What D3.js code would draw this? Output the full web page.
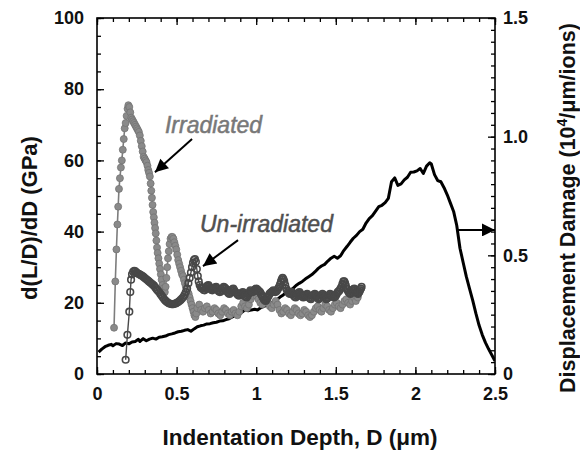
<!DOCTYPE html>
<html><head><meta charset="utf-8">
<script src="https://cdn.jsdelivr.net/npm/d3@7"></script>
<style>
html,body{margin:0;padding:0;background:#fff;}
svg{display:block;font-family:"Liberation Sans",Arial,Helvetica,sans-serif;}
</style></head>
<body><svg id="c" width="580" height="450"></svg>
<script>
// ---------- data ----------
const xTicks = [0, 0.5, 1, 1.5, 2, 2.5];
const xTickLabels = ["0", "0.5", "1", "1.5", "2", "2.5"];
const yLeftTicks = [0, 20, 40, 60, 80, 100];
const yRightTicks = [0, 0.5, 1.0, 1.5];
const yRightTickLabels = ["0", "0.5", "1.0", "1.5"];

const irrD = [0.107,0.115,0.122,0.128,0.133,0.138,0.144,0.150,0.156,0.162,0.168,0.174,0.180,0.186,0.192,0.197,0.203,0.209,0.215,0.221,0.227,0.233,0.239,0.245,0.251,0.257,0.263,0.269,0.275,0.281,0.287,0.293,0.299,0.305,0.311,0.317,0.322,0.327,0.332,0.337,0.341,0.345,0.349,0.353,0.357,0.361,0.365,0.369,0.373,0.377,0.381,0.386,0.391,0.396,0.401,0.406,0.411,0.416,0.421,0.426,0.431,0.436,0.441,0.446,0.451,0.456,0.462,0.468,0.474,0.480,0.486,0.492,0.498,0.504,0.510,0.516,0.522,0.528,0.534,0.540,0.546,0.552,0.558,0.564,0.570,0.576,0.582,0.588,0.594,0.600,0.606,0.612,0.618,0.624,0.630,0.642,0.654,0.666,0.678,0.690,0.702,0.714,0.726,0.738,0.750,0.762,0.774,0.786,0.798,0.810,0.822,0.834,0.846,0.858,0.870,0.882,0.894,0.906,0.918,0.930,0.942,0.954,0.966,0.978,0.990,1.002,1.014,1.026,1.038,1.050,1.062,1.074,1.086,1.098,1.110,1.122,1.134,1.146,1.158,1.170,1.182,1.194,1.206,1.218,1.230,1.242,1.254,1.266,1.278,1.290,1.302,1.314,1.326,1.338,1.350,1.362,1.374,1.386,1.398,1.410,1.422,1.434,1.446,1.458,1.470,1.482,1.494,1.506,1.518,1.530,1.542,1.554,1.566,1.578,1.590,1.602,1.614,1.626,1.638,1.650,1.660];
const irrV = [13,26,35,42,47,52,55,58,60,63,66,69,70.5,72.5,74.5,75.5,75,73.5,72,71.5,71,70.5,70,69.5,69,68.5,68,67,65.5,64,62.5,61,60.5,60,59.5,58.5,57.3,56.5,55.5,53.5,51.5,49.5,47.5,45.5,44,42.5,41,39.5,37.5,35.5,34,32.5,31,29.5,28,26.5,25,24,23,23,24.5,27,30,32.5,34.5,36.5,38,38.5,38.5,38,37,36,35,33.5,32,31,30,29,28,27.5,26.5,25.5,24.5,24,23,22.5,21.5,20.5,19.5,18.5,17.5,16.5,16,17,18.5,19.5,18,17.5,18.5,19,18,17,17.5,18.5,18,17,16.5,17.5,18.5,18,17,16.5,17.5,18,17,16.5,17.5,19,20,19,18.5,19.5,21,22,23,22,21,20,19.5,20.5,21,20,19,18.5,19.5,20.5,19.5,18,17,17.5,18.5,18,17,16.5,17.5,18.5,18,17,16.5,17,18,17.5,16.5,16,16.5,17.5,18.5,19,18,17.5,18.5,19.5,19,18,17.5,18.5,19.5,20,19,18.5,19.5,20.5,21,20,19.5,20.5,21.5,20.5,21.5,23,24];

const unD = [0.180,0.191,0.203,0.209,0.214,0.220,0.227,0.234,0.241,0.248,0.255,0.262,0.270,0.278,0.286,0.294,0.302,0.310,0.318,0.326,0.334,0.342,0.350,0.358,0.366,0.374,0.382,0.390,0.398,0.406,0.414,0.422,0.430,0.438,0.446,0.454,0.462,0.470,0.478,0.486,0.494,0.502,0.510,0.518,0.526,0.534,0.542,0.550,0.558,0.566,0.574,0.582,0.590,0.597,0.603,0.609,0.615,0.621,0.627,0.633,0.639,0.645,0.652,0.658,0.664,0.670,0.676,0.682,0.688,0.694,0.700,0.706,0.712,0.718,0.724,0.730,0.736,0.742,0.748,0.754,0.760,0.766,0.772,0.778,0.784,0.790,0.796,0.802,0.808,0.814,0.820,0.826,0.832,0.838,0.844,0.850,0.856,0.862,0.868,0.874,0.880,0.886,0.892,0.898,0.904,0.910,0.916,0.922,0.928,0.934,0.940,0.946,0.952,0.958,0.964,0.970,0.976,0.982,0.988,0.994,1.000,1.006,1.012,1.018,1.024,1.030,1.036,1.042,1.048,1.054,1.060,1.066,1.072,1.078,1.084,1.090,1.096,1.102,1.108,1.114,1.120,1.126,1.132,1.138,1.144,1.150,1.156,1.161,1.166,1.171,1.176,1.182,1.188,1.194,1.200,1.206,1.212,1.218,1.224,1.230,1.236,1.242,1.248,1.254,1.260,1.266,1.272,1.278,1.284,1.290,1.296,1.302,1.308,1.314,1.320,1.326,1.332,1.338,1.344,1.350,1.356,1.362,1.368,1.374,1.380,1.386,1.392,1.398,1.404,1.410,1.416,1.422,1.428,1.434,1.440,1.446,1.452,1.458,1.464,1.470,1.476,1.482,1.488,1.494,1.500,1.506,1.512,1.518,1.524,1.530,1.536,1.542,1.548,1.553,1.558,1.563,1.568,1.574,1.580,1.586,1.592,1.598,1.604,1.610,1.616,1.622,1.628,1.634,1.640,1.646,1.652,1.657,1.662];
const unV = [4,11,17.5,23,26.5,28,28.7,29,28.8,28.5,28.3,28.1,27.9,27.7,27.5,27.2,26.9,26.6,26.3,26,25.7,25.4,25.1,24.8,24.3,23.8,23.4,23,22.5,22,21.5,21,20.6,20.3,20,19.8,19.7,19.6,19.6,19.7,19.8,20,20.2,20.5,20.8,21.2,21.6,22.2,23,24,25.5,27,28.5,30,31.2,32,32.3,31.5,29.5,27.5,26,25,24.3,24.1,24,23.6,23.5,24,24.5,24.8,25,24.5,24,23.7,23.5,23.8,24,24.3,24.5,24,23.5,23.2,23,23.2,23.5,24,24.5,24.3,24,23.5,23,22.7,22.5,23,23.5,23.8,24,23.5,23,22.8,22.5,22.2,22,22.2,22.5,22.8,23,22.5,22,21.7,21.5,22,22.5,23,23.5,23.2,23,23.2,23.5,23.8,24,23.8,23.5,23.2,23,22.5,22,21.5,21,20.7,20.5,21,21.5,22,22.5,22.8,23,23.2,23.5,23.2,23,23.2,23.5,24,24.5,25.2,26,26.6,27,26.6,26,25,24,23.5,23,22.7,22.5,22.8,23,22.5,22,21.7,21.5,22,22.5,22.8,23,22.5,22,21.7,21.5,21.7,22,22.2,22.5,22,21.5,21.2,21,21.5,22,22.2,22.5,22.2,22,21.5,21,21.2,21.5,22,22.5,22.2,22,21.5,21,21.2,21.5,22,22.5,22.2,22,21.7,21.5,21.7,22,22.5,23,23.2,23.5,24,24.5,25.3,26,26,25.5,24.8,24,23.5,23,22.7,22.5,23,23.5,23.8,24,23.5,23,22.7,22.5,23,23.5,24,24.5];

const dmgD = [0.01,0.03,0.05,0.07,0.09,0.10,0.12,0.14,0.16,0.18,0.20,0.22,0.24,0.26,0.27,0.29,0.31,0.33,0.35,0.37,0.39,0.41,0.43,0.45,0.47,0.49,0.51,0.53,0.55,0.57,0.59,0.61,0.63,0.65,0.67,0.69,0.71,0.73,0.75,0.77,0.79,0.81,0.83,0.85,0.87,0.89,0.91,0.93,0.95,0.97,0.99,1.01,1.03,1.05,1.07,1.09,1.11,1.13,1.15,1.17,1.19,1.21,1.23,1.25,1.27,1.29,1.31,1.33,1.35,1.37,1.39,1.41,1.43,1.45,1.47,1.49,1.51,1.53,1.55,1.57,1.59,1.61,1.63,1.65,1.67,1.69,1.71,1.73,1.75,1.77,1.79,1.81,1.83,1.85,1.87,1.89,1.91,1.93,1.95,1.97,1.99,2.01,2.03,2.05,2.07,2.09,2.10,2.12,2.14,2.16,2.18,2.20,2.22,2.24,2.26,2.28,2.30,2.32,2.34,2.36,2.38,2.40,2.42,2.44,2.46,2.48,2.50];
const dmgV = [0.092,0.105,0.115,0.121,0.125,0.119,0.128,0.126,0.120,0.131,0.127,0.135,0.137,0.146,0.137,0.149,0.140,0.147,0.151,0.147,0.155,0.157,0.160,0.166,0.169,0.173,0.178,0.180,0.184,0.187,0.180,0.190,0.199,0.203,0.206,0.211,0.212,0.216,0.218,0.223,0.224,0.229,0.233,0.240,0.248,0.255,0.260,0.270,0.266,0.270,0.273,0.270,0.280,0.285,0.291,0.300,0.305,0.313,0.324,0.333,0.345,0.354,0.360,0.373,0.382,0.390,0.401,0.410,0.419,0.431,0.445,0.455,0.462,0.476,0.488,0.496,0.488,0.498,0.520,0.537,0.555,0.572,0.584,0.600,0.610,0.636,0.655,0.667,0.686,0.705,0.711,0.722,0.740,0.810,0.826,0.795,0.801,0.818,0.829,0.850,0.851,0.856,0.866,0.845,0.876,0.890,0.885,0.840,0.815,0.810,0.785,0.755,0.720,0.685,0.625,0.530,0.470,0.410,0.360,0.310,0.255,0.205,0.165,0.132,0.105,0.080,0.055];

// ---------- layout ----------
const W = 580, H = 450;
const m = {left: 97, right: 85, top: 18, bottom: 76};
const svg = d3.select("#c");
const x = d3.scaleLinear().domain([0, 2.5]).range([m.left, W - m.right]);
const yL = d3.scaleLinear().domain([0, 100]).range([H - m.bottom, m.top]);
const yR = d3.scaleLinear().domain([0, 1.5]).range([H - m.bottom, m.top]);
const FONT = '"Liberation Sans",Arial,Helvetica,sans-serif';

// ---------- data marks ----------
const clipId = "plotclip";
svg.append("clipPath").attr("id", clipId).append("rect")
  .attr("x", m.left).attr("y", m.top).attr("width", W - m.left - m.right).attr("height", H - m.top - m.bottom);

const dmg = dmgD.map((d, i) => [d, dmgV[i]]);
svg.append("path").datum(dmg).attr("clip-path", `url(#${clipId})`)
  .attr("fill", "none").attr("stroke", "#000").attr("stroke-width", 3).attr("stroke-linejoin", "round")
  .attr("d", d3.line().x(d => x(d[0])).y(d => yR(d[1])));

const irr = irrD.map((d, i) => [d, irrV[i]]);
const gIrr = svg.append("g");
gIrr.append("path").datum(irr).attr("fill", "none").attr("stroke", "#7d7d7d").attr("stroke-width", 1.6)
  .attr("d", d3.line().x(d => x(d[0])).y(d => yL(d[1])));
gIrr.selectAll("circle").data(irr).join("circle")
  .attr("cx", d => x(d[0])).attr("cy", d => yL(d[1])).attr("r", 3.5)
  .attr("fill", "#8a8a8a").attr("stroke", "#737373").attr("stroke-width", 0.8);

const un = unD.map((d, i) => [d, unV[i]]);
const gUn = svg.append("g");
gUn.append("path").datum(un).attr("fill", "none").attr("stroke", "#4a4a4a").attr("stroke-width", 1.4)
  .attr("d", d3.line().x(d => x(d[0])).y(d => yL(d[1])));
gUn.selectAll("circle").data(un).join("circle")
  .attr("cx", d => x(d[0])).attr("cy", d => yL(d[1])).attr("r", 3.3)
  .attr("fill", "none").attr("stroke", "#484848").attr("stroke-width", 1.6);

// ---------- axes ----------
const minorX = d3.range(0, 2.5001, 0.1).map(v => +v.toFixed(2));
const minorL = d3.range(0, 100.001, 5);
const minorR = d3.range(0, 1.5001, 0.05).map(v => +v.toFixed(2));
const fmtX = d => xTickLabels[xTicks.indexOf(d)];
const fmtR = d => yRightTickLabels[yRightTicks.indexOf(d)];

function styleAxis(g) {
  g.select(".domain").remove();
  g.selectAll("line").attr("stroke", "#000").attr("stroke-width", 1.3);
  g.selectAll("text").attr("font-family", FONT).attr("font-size", 18).attr("font-weight", "bold").attr("fill", "#111");
}
const yB = H - m.bottom;
svg.append("g").attr("transform", `translate(0,${yB})`).call(d3.axisBottom(x).tickValues(minorX).tickSize(-4).tickFormat("")).call(styleAxis);
svg.append("g").attr("transform", `translate(0,${yB})`).call(d3.axisBottom(x).tickValues(xTicks).tickSize(-7).tickPadding(13).tickFormat(fmtX)).call(styleAxis);
svg.append("g").attr("transform", `translate(0,${m.top})`).call(d3.axisTop(x).tickValues(minorX).tickSize(-4).tickFormat("")).call(styleAxis);
svg.append("g").attr("transform", `translate(0,${m.top})`).call(d3.axisTop(x).tickValues(xTicks).tickSize(-7).tickFormat("")).call(styleAxis);
svg.append("g").attr("transform", `translate(${m.left},0)`).call(d3.axisLeft(yL).tickValues(minorL).tickSize(-4).tickFormat("")).call(styleAxis);
svg.append("g").attr("transform", `translate(${m.left},0)`).call(d3.axisLeft(yL).tickValues(yLeftTicks).tickSize(-7).tickPadding(13).tickFormat(d3.format("d"))).call(styleAxis);
svg.append("g").attr("transform", `translate(${W - m.right},0)`).call(d3.axisRight(yR).tickValues(minorR).tickSize(-4).tickFormat("")).call(styleAxis);
svg.append("g").attr("transform", `translate(${W - m.right},0)`).call(d3.axisRight(yR).tickValues(yRightTicks).tickSize(-7).tickPadding(8).tickFormat(fmtR)).call(styleAxis);

svg.append("rect").attr("x", m.left).attr("y", m.top).attr("width", W - m.left - m.right).attr("height", H - m.top - m.bottom)
  .attr("fill", "none").attr("stroke", "#000").attr("stroke-width", 1.6);

// ---------- axis titles ----------
svg.append("text").attr("x", (m.left + W - m.right) / 2 + 4).attr("y", 445)
  .attr("text-anchor", "middle").attr("font-family", FONT).attr("font-size", 22.5).attr("font-weight", "bold").attr("fill", "#111")
  .text("Indentation Depth, D (μm)");
svg.append("text").attr("transform", `translate(37,${(m.top + H - m.bottom) / 2 + 22}) rotate(-90)`)
  .attr("text-anchor", "middle").attr("font-family", FONT).attr("font-size", 22).attr("font-weight", "bold").attr("fill", "#111")
  .text("d(L/D)/dD  (GPa)");
const rt = svg.append("text").attr("transform", `translate(575,${(m.top + H - m.bottom) / 2 + 12}) rotate(-90)`)
  .attr("text-anchor", "middle").attr("font-family", FONT).attr("font-size", 21.5).attr("font-weight", "bold").attr("fill", "#111");
rt.append("tspan").text("Displacement Damage (10");
rt.append("tspan").attr("font-size", 14).attr("dy", -8).text("4");
rt.append("tspan").attr("dy", 8).text("/μm/ions)");

// ---------- annotations ----------
const annText = [
  {label: "Irradiated", d: 0.427, v: 67.7, color: "#787878"},
  {label: "Un-irradiated", d: 0.647, v: 39.9, color: "#505050"}
];
svg.selectAll(".ann").data(annText).join("text").attr("class", "ann")
  .attr("x", d => x(d.d)).attr("y", d => yL(d.v))
  .attr("font-family", FONT).attr("font-size", 23).attr("font-style", "italic").attr("fill", d => d.color)
  .attr("stroke", d => d.color).attr("stroke-width", 0.5)
  .text(d => d.label);

svg.append("defs").append("marker").attr("id", "ah").attr("viewBox", "0 0 10 10")
  .attr("refX", 10).attr("refY", 5).attr("markerWidth", 16).attr("markerHeight", 13)
  .attr("markerUnits", "userSpaceOnUse").attr("orient", "auto")
  .append("path").attr("d", "M0,0 L10,5 L0,10 Z").attr("fill", "#000");

const arrows = [
  {x1: x(0.597), y1: yL(66), x2: x(0.364), y2: yL(56.7)},
  {x1: x(0.886), y1: yL(37.6), x2: x(0.666), y2: yL(30.3)},
  {x1: x(2.262), y1: yR(0.607), x2: x(2.5), y2: yR(0.607)}
];
svg.selectAll(".arr").data(arrows).join("line").attr("class", "arr")
  .attr("x1", d => d.x1).attr("y1", d => d.y1).attr("x2", d => d.x2).attr("y2", d => d.y2)
  .attr("stroke", "#000").attr("stroke-width", 2).attr("marker-end", "url(#ah)");
</script></body></html>
